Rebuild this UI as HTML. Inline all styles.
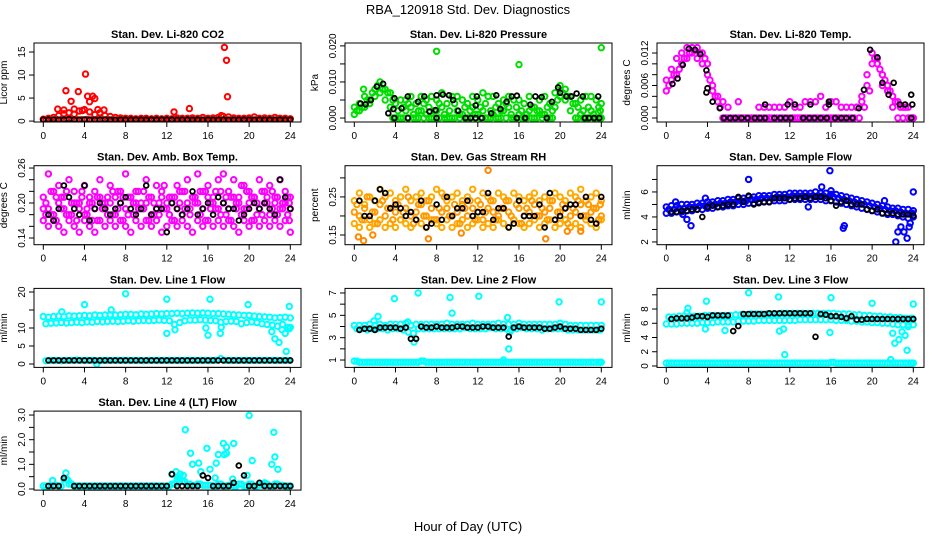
<!DOCTYPE html>
<html><head><meta charset="utf-8"><style>
html,body{margin:0;padding:0;background:#fff;}
svg{display:block;font-family:"Liberation Sans",sans-serif;}
</style></head><body>
<svg id="chart" width="936" height="540" viewBox="0 0 936 540" xmlns="http://www.w3.org/2000/svg">
<rect width="936" height="540" fill="#fff"/>
<text x="468" y="14" font-size="13" text-anchor="middle">RBA_120918  Std. Dev. Diagnostics</text>
<text x="468" y="531" font-size="13" text-anchor="middle">Hour of Day (UTC)</text>
</svg>
<script>
const halfHours=[0,0.5,1,1.5,2,2.5,3,3.5,4,4.5,5,5.5,6,6.5,7,7.5,8,8.5,9,9.5,10,10.5,11,11.5,12,12.5,13,13.5,14,14.5,15,15.5,16,16.5,17,17.5,18,18.5,19,19.5,20,20.5,21,21.5,22,22.5,23,23.5,24];
const quarterHours=[0.25,0.75,1.25,1.75,2.25,2.75,3.25,3.75,4.25,4.75,5.25,5.75,6.25,6.75,7.25,7.75,8.25,8.75,9.25,9.75,10.25,10.75,11.25,11.75,12.25,12.75,13.25,13.75,14.25,14.75,15.25,15.75,16.25,16.75,17.25,17.75,18.25,18.75,19.25,19.75,20.25,20.75,21.25,21.75,22.25,22.75,23.25,23.75,23.9];
const xTicks=[0,4,8,12,16,20,24];

// CO2
const co2Red=[0.4,0.6,0.8,1.2,2.4,1.8,1.5,2.2,2.5,2.0,1.4,1.8,1.2,1.0,0.8,0.7,0.6,0.6,0.5,0.6,0.6,0.5,0.6,0.5,0.6,0.5,0.7,0.6,0.6,0.7,0.6,0.8,0.6,0.7,0.8,1.0,0.9,0.7,0.6,0.6,0.7,0.9,0.6,0.7,0.6,0.8,0.6,0.6,0.5];
const co2OutX=[1.4,2.2,2.7,3.4,4.1,4.3,4.5,4.8,5.0,5.3,5.9,12.7,14.2,17.3,17.6,17.8,17.9,2.0,3.0,3.8];
const co2OutY=[2.6,6.6,4.3,6.4,10.2,5.4,4.2,5.4,4.9,2.5,2.4,2.0,2.7,1.2,16,13.2,5.3,1.6,2.6,2.3];
const co2Black=[0.3,0.3,0.35,0.3,0.3,0.4,0.3,0.3,0.35,0.3,0.3,0.3,0.35,0.3,0.3,0.3,0.3,0.3,0.3,0.3,0.3,0.3,0.3,0.3,0.3,0.3,0.3,0.3,0.3,0.3,0.3,0.3,0.3,0.3,0.3,0.3,0.3,0.3,0.3,0.3,0.3,0.3,0.3,0.3,0.3,0.3,0.3,0.3,0.3];

// Pressure
const presUp=[0.003,0.004,0.006,0.005,0.008,0.010,0.008,0.007,0.004,0.005,0.005,0.006,0.004,0.006,0.005,0.006,0.005,0.007,0.004,0.006,0.006,0.005,0.004,0.006,0.005,0.007,0.006,0.006,0.004,0.005,0.006,0.005,0.005,0.004,0.006,0.003,0.005,0.006,0.004,0.007,0.009,0.008,0.006,0.004,0.005,0.006,0.006,0.005,0.004];
const presLow=[0.001,0.002,0.003,0.004,0.006,0.007,0.005,0.003,0,0,0.002,0.003,0,0.002,0.001,0,0.002,0.003,0,0,0.002,0.001,0,0.003,0.001,0.002,0,0.001,0,0.002,0.003,0,0.001,0,0.002,0,0.002,0.001,0,0.003,0.006,0.005,0.002,0,0.001,0,0.002,0,0];
const presMid=[0.002,0.003,0.005,0.007,0.009,0.008,0.007,0.005,0.002,0.003,0.004,0.001,0.002,0.004,0.003,0.002,0.004,0.001,0.002,0.004,0.001,0.003,0.002,0.001,0.003,0.004,0.002,0.003,0.002,0.004,0.001,0.003,0.002,0.001,0.003,0.002,0.001,0.003,0.002,0.005,0.007,0.006,0.004,0.003,0.002,0.003,0.001,0.003,0.002];
const presZero=[null,null,null,null,null,null,null,0,0,0,0,0,0,0,0,0,0,0,0,0,0,0,0,0,0,0,0,0,0,0,0,0,0,0,0,0,0,0,0,null,null,null,null,0,0,0,0,0,0];
const presOutX=[8,16,24,0.9,23.7];
const presOutY=[0.0185,0.0148,0.0195,0.008,0.0015];
const presBlackX=[0.6,1.1,1.6,2.2,2.8,3.3,3.8,3.9,4.6,5.2,6.2,6.8,7.3,7.9,8,8.6,9.2,9.6,10.1,11.8,11.9,13.3,13.8,14.2,14.8,15.3,15.8,17.1,17.6,18.2,19.2,19.8,20,20.6,21.1,21.6,22.2,23.7,3.9,5.2,8,10.8,11.3,11.8,12.4,15.8,16.6,18.7,22.4,22.8,23.3,23.8];
const presBlackY=[0.004,0.0038,0.005,0.0087,0.0095,0.0013,0.0025,0.0055,0.0027,0.006,0.0045,0.006,0.0018,0.0022,0.0063,0.0065,0.0063,0.005,0.002,0.0035,0.006,0.0013,0.0063,0.0025,0.0045,0.006,0.0062,0.0037,0.006,0.0058,0.0045,0.0085,0.007,0.006,0.006,0.0068,0.006,0.006,0,0,0,0,0,0,0,0,0,0,0,0,0,0];

// Temp
const tempUp=[0.007,0.009,0.011,0.012,0.013,0.013,0.013,0.012,0.010,0.006,0.004,0.003,0.002,null,0.003,null,null,null,0.002,0.002,0.002,0.002,0.002,0.002,0.003,0.002,0.002,0.003,0.003,0.003,0.004,0.002,0.003,0.003,0.002,0.002,0.002,0.002,0.004,0.008,0.012,0.011,0.008,0.006,0.004,0.003,0.002,0.002,0];
const tempLow=[0.005,0.007,0.008,0.010,0.011,0.012,0.011,0.010,0.008,0.005,0.003,0,0,0,0,0,0,0,0,0,0,0,0,0,0,0,0,0,0,0,0,0,0,0,0,0,0,0.002,0.003,0.006,0.010,0.010,0.006,0.005,0.002,0,0,0,0];
const tempMid=[0.006,0.008,0.009,0.011,0.012,0.0125,0.012,0.011,0.007,0.004,0.002,0,0,0,0,0,0,0,0,0,0,0,0,0,0,0,0,0,0,0,0,0,0,0,0,0,0,0,0.002,0.005,0.011,0.009,0.007,0.005,0.003,0.002,0.002,0,0];
const tempBlackX=[0.6,1.1,1.6,2.2,2.8,3.3,3.9,4.0,3.9,4.5,5.2,9.6,11.8,12.5,14,15.8,15.8,18.7,19.2,19.8,20.5,21,21.6,22.1,22.7,23.2,23.8,23.9,23.8,5.6,6.2,6.7,7.3,7.9,8.6,9.1,9.6,10.5,11.1,11.6,12.1,13.3,13.9,14.4,15.0,15.6,16.4,17.0,17.5,18.1];
const tempBlackY=[0.0063,0.0073,0.0098,0.0128,0.0126,0.0118,0.0088,0.0055,0.0047,0.003,0.0018,0.0025,0.0025,0.0025,0.0025,0.0025,0.003,0.0018,0.0052,0.0126,0.0112,0.0065,0.0043,0.0065,0.0025,0.0025,0.0043,0.0025,0,0,0,0,0,0,0,0,0,0,0,0,0,0,0,0,0,0,0,0,0,0];

// Amb box temp
const ambA=[0.21,0.25,0.22,0.23,0.21,0.24,0.22,0.20,0.23,0.21,0.22,0.24,0.20,0.23,0.21,0.22,0.25,0.21,0.22,0.20,0.24,0.21,0.23,0.22,0.20,0.21,0.23,0.22,0.24,0.21,0.25,0.22,0.23,0.21,0.24,0.25,0.22,0.24,0.21,0.23,0.22,0.21,0.24,0.22,0.23,0.21,0.24,0.22,0.21];
const ambB=[0.19,0.19,0.18,0.20,0.19,0.18,0.20,0.19,0.18,0.20,0.19,0.21,0.19,0.20,0.18,0.20,0.19,0.21,0.20,0.19,0.20,0.18,0.19,0.21,0.19,0.20,0.19,0.18,0.20,0.21,0.20,0.19,0.21,0.20,0.19,0.20,0.19,0.21,0.20,0.19,0.20,0.21,0.19,0.20,0.18,0.20,0.19,0.20,0.19];
const ambC=[0.17,0.16,0.17,0.16,0.15,0.17,0.16,0.15,0.17,0.16,0.15,0.17,0.16,0.17,0.16,0.17,0.16,0.15,0.17,0.16,0.17,0.16,0.17,0.15,0.16,0.17,0.16,0.17,0.16,0.15,0.17,0.16,0.17,0.16,0.17,0.16,0.17,0.16,0.15,0.17,0.16,0.17,0.16,0.17,0.16,0.17,0.16,0.17,0.15];
const ambD=[0.20,0.18,0.21,0.19,0.22,0.18,0.20,0.21,0.19,0.17,0.21,0.20,0.18,0.22,0.19,0.21,0.18,0.20,0.22,0.19,0.21,0.18,0.20,0.23,0.18,0.21,0.20,0.22,0.19,0.21,0.18,0.22,0.20,0.19,0.22,0.18,0.21,0.20,0.23,0.19,0.21,0.18,0.22,0.20,0.19,0.21,0.20,0.18,0.20];
const ambE=[0.18,0.22,0.17,0.21,0.18,0.20,0.17,0.22,0.18,0.20,0.17,0.19,0.21,0.18,0.22,0.17,0.21,0.18,0.19,0.22,0.17,0.20,0.18,0.19,0.21,0.17,0.22,0.19,0.18,0.20,0.22,0.17,0.19,0.22,0.18,0.21,0.17,0.19,0.18,0.22,0.17,0.20,0.18,0.21,0.22,0.18,0.19,0.21,0.17];
const ambBlack=[null,0.18,0.17,0.19,0.23,0.21,0.19,0.18,0.23,0.17,0.19,0.20,0.19,0.18,0.19,0.20,0.21,0.19,0.18,0.19,0.23,0.18,0.19,0.19,0.15,0.20,0.19,0.18,0.19,0.22,0.18,0.19,0.20,0.18,0.21,0.20,0.19,0.19,0.17,0.18,0.19,0.20,0.19,0.20,0.19,0.18,0.24,0.21,0.19];

// Gas stream RH
const rhA=[0.24,0.26,0.23,0.25,0.24,0.27,0.25,0.26,0.24,0.25,0.27,0.24,0.25,0.26,0.24,0.25,0.27,0.26,0.24,0.25,0.26,0.24,0.25,0.27,0.24,0.26,0.25,0.24,0.26,0.25,0.24,0.26,0.25,0.24,0.25,0.26,0.24,0.25,0.24,0.26,0.25,0.24,0.26,0.25,0.27,0.24,0.25,0.26,0.24];
const rhB=[0.21,0.20,0.22,0.19,0.21,0.23,0.20,0.22,0.21,0.19,0.22,0.20,0.21,0.23,0.20,0.22,0.19,0.21,0.22,0.20,0.21,0.23,0.20,0.22,0.21,0.19,0.22,0.21,0.20,0.22,0.21,0.19,0.22,0.20,0.21,0.23,0.20,0.21,0.22,0.19,0.21,0.22,0.20,0.21,0.23,0.20,0.21,0.22,0.20];
const rhC=[0.18,0.17,0.19,0.17,0.18,0.19,0.17,0.18,0.17,0.19,0.18,0.17,0.19,0.18,0.17,0.19,0.18,0.17,0.19,0.17,0.18,0.19,0.17,0.18,0.19,0.17,0.18,0.17,0.19,0.18,0.17,0.19,0.18,0.17,0.18,0.19,0.17,0.18,0.19,0.17,0.18,0.19,0.17,0.18,0.17,0.19,0.18,0.17,0.19];
const rhD=[0.23,0.19,0.25,0.21,0.18,0.24,0.22,0.19,0.23,0.21,0.25,0.18,0.23,0.20,0.24,0.19,0.22,0.25,0.20,0.23,0.18,0.22,0.24,0.19,0.23,0.21,0.24,0.19,0.22,0.24,0.20,0.23,0.18,0.22,0.24,0.20,0.22,0.19,0.24,0.21,0.23,0.18,0.22,0.24,0.20,0.23,0.22,0.19,0.23];
const rhOutX=[0.4,0.9,1.8,13,18.6,7.2,10.4,20.7,22];
const rhOutY=[0.145,0.135,0.15,0.32,0.14,0.14,0.155,0.16,0.16];
const rhBlack=[null,0.24,0.20,0.20,0.24,0.27,0.26,0.22,0.23,0.22,0.20,0.21,0.19,0.24,0.17,0.18,0.23,0.19,0.25,0.20,0.22,0.22,0.24,0.20,0.21,0.21,0.26,0.19,0.22,0.22,0.17,0.18,0.24,0.20,0.20,0.20,0.23,0.17,0.26,0.19,0.20,0.22,0.23,0.23,0.20,0.25,0.19,0.18,0.25];

// Sample flow
const sfUp=[4.8,4.9,4.9,5.0,5.0,5.0,5.1,5.1,5.2,5.2,5.3,5.3,5.4,5.4,5.5,5.5,5.6,5.6,5.7,5.7,5.7,5.8,5.8,5.8,5.9,5.9,5.9,5.9,5.9,6.0,5.9,5.9,5.8,5.8,5.7,5.6,5.5,5.4,5.3,5.2,5.1,5.0,4.9,4.8,4.7,4.7,4.6,4.6,4.5];
const sfMid=[4.6,4.6,4.7,4.7,4.8,4.8,4.9,4.9,5.0,5.0,5.1,5.1,5.2,5.2,5.3,5.3,5.4,5.4,5.5,5.5,5.5,5.6,5.6,5.6,5.7,5.7,5.7,5.7,5.7,5.7,5.7,5.6,5.6,5.5,5.4,5.3,5.2,5.1,5.0,4.9,4.8,4.7,4.6,4.5,4.5,4.4,4.3,4.3,4.3];
const sfLow=[4.3,4.3,4.4,4.4,4.5,4.5,4.6,4.6,4.7,4.7,4.8,4.8,4.9,4.9,5.0,5.0,5.1,5.1,5.2,5.2,5.2,5.3,5.3,5.3,5.4,5.4,5.4,5.4,5.4,5.4,5.4,5.3,5.3,5.2,5.1,5.0,4.9,4.8,4.7,4.6,4.5,4.4,4.3,4.2,4.2,4.1,4.0,3.9,4.0];
const sfOutX=[1.6,2.0,2.4,8,15.1,15.9,16.0,17.2,17.3,22.3,22.5,22.8,23.1,23.4,23.6,23.7,24,21.2,13.8,0.9,3.8];
const sfOutY=[4.2,3.8,3.3,7,6.4,7.7,6.1,3.1,3.3,2.0,2.8,3.2,2.8,2.3,3.2,3.5,6.0,5.3,4.8,5.2,5.5];
const sfBlack=[null,4.4,4.4,4.5,4.5,4.6,4.6,4.0,4.8,4.9,4.8,4.9,5.0,5.0,5.6,5.2,5.7,5.0,5.1,5.2,5.2,5.5,5.5,5.5,5.4,5.5,5.5,5.6,5.5,5.6,5.6,5.5,5.3,4.9,5.2,5.3,5.0,5.0,5.0,4.6,4.5,4.6,4.3,4.3,4.3,4.2,4.2,4.2,4.1];

// Line 1 flow
const l1Up=[13.2,13.0,13.2,13.3,13.2,13.4,13.3,13.4,13.5,13.4,13.6,13.5,13.6,13.7,13.6,13.7,13.8,13.8,13.7,13.9,13.8,13.9,14.0,13.9,14.0,14.0,14.1,14.0,14.1,14.2,14.1,14.2,14.1,14.0,14.0,13.9,13.8,13.7,13.6,13.5,13.5,13.3,13.2,13.1,13.0,12.8,12.9,13.0,12.8];
const l1Low=[11.2,11.3,11.4,11.5,11.4,11.5,11.6,11.5,11.7,11.6,11.8,11.7,11.8,11.9,11.8,11.9,12.0,11.9,12.0,12.1,12.0,12.1,12.2,12.1,12.0,11.0,11.5,12.0,12.2,12.2,12.3,12.2,12.1,12.0,11.6,11.8,11.9,11.8,11.2,11.5,11.7,11.5,11.2,11.0,10.8,10.5,11.0,10.2,9.8];
const l1Base=[0.9,1.0,1.0,0.9,1.0,1.0,1.1,1.0,1.0,1.0,0.9,1.0,1.0,1.0,1.0,1.0,1.0,1.0,1.0,0.9,1.0,1.0,1.0,1.0,1.0,1.0,1.0,1.0,1.0,1.0,1.0,1.0,1.0,1.0,1.5,1.0,1.0,1.0,1.0,1.0,1.0,1.0,1.0,1.0,1.0,1.0,1.0,1.0,1.0];
const l1OutX=[1.8,4,6.6,8,12,12,12.8,15.8,16,16.2,17.2,17.3,19.9,22.2,22.5,22.9,23.2,23.5,23.6,23.9,24,5.2];
const l1OutY=[14.5,16.5,15,19.5,18,8.5,9.5,10,8,18,8.5,10.2,16.5,9,7,6,9.5,8.5,3.5,16,10.2,0];
const l1Black=[null,1,1,1,1,1,1,1,1,1,1,1,1,1,1,1,1,1,1,1,1,1,1,1,1,1,1,1,1,1,1,1,1,1,1,1,1,1,1,1,1,1,1,1,1,1,1,1,1];

// Line 2 flow
const l2Up=[4.1,4.1,4.1,4.2,4.1,4.2,4.1,4.2,4.2,4.2,4.3,4.1,4.2,4.2,4.2,4.2,4.2,4.2,4.3,4.2,4.2,4.2,4.2,4.3,4.2,4.2,4.2,4.2,4.3,4.2,4.2,4.2,4.3,4.2,4.2,4.2,4.2,4.2,4.2,4.2,4.3,4.2,4.1,4.1,4.1,4.1,4.1,4.1,4.1];
const l2Low=[3.8,3.8,3.7,3.8,3.8,3.8,3.7,3.8,3.8,3.7,3.5,3.4,3.8,3.8,3.8,3.8,3.8,3.8,3.8,3.8,3.8,3.9,3.8,3.8,3.8,3.8,3.9,3.8,3.8,3.8,3.7,3.8,3.9,3.8,3.8,3.8,3.7,3.8,3.8,3.8,3.8,3.7,3.7,3.7,3.7,3.7,3.7,3.7,3.7];
const l2Base=[0.9,0.8,0.8,0.8,0.8,0.8,0.8,0.8,0.8,0.8,0.8,0.8,0.8,0.9,0.8,0.8,0.8,0.8,0.8,0.8,0.8,0.8,0.8,0.8,0.8,0.8,0.8,0.8,0.8,0.8,0.8,0.8,0.8,0.8,0.8,0.8,0.8,0.8,0.8,0.8,0.8,0.8,0.8,0.8,0.8,0.8,0.8,0.8,0.8];
const l2OutX=[1.9,2.3,3.9,5.2,5.8,6.2,9.3,9.5,12.1,14.9,15.0,15.1,19.9,24,14.5];
const l2OutY=[4.5,4.9,6.5,4.4,2.6,7,6.6,5.2,6.7,4.8,2.0,3.5,6.2,6.2,1.0];
const l2Black=[null,3.7,3.8,3.8,3.7,3.9,3.9,3.9,3.9,3.8,3.9,2.9,2.9,4.0,3.9,3.9,4.0,3.9,3.9,3.9,4.0,4.0,3.9,3.9,3.9,4.0,4.0,3.9,3.9,3.9,3.1,3.9,4.0,3.9,3.9,3.9,3.9,3.8,3.8,3.9,4.0,3.8,3.8,3.8,3.7,3.7,3.7,3.7,3.8];

// Line 3 flow
const l3Up=[6.9,6.9,7.0,7.0,7.0,7.0,7.0,7.1,7.1,7.1,7.1,7.1,7.1,7.2,7.2,7.2,7.3,7.3,7.3,7.3,7.3,7.3,7.4,7.4,7.4,7.4,7.4,7.4,7.4,7.4,7.4,7.4,7.4,7.3,7.3,7.3,7.2,7.2,7.1,7.1,7.0,7.0,6.9,6.9,6.8,6.8,6.7,6.7,6.7];
const l3Low=[5.9,5.9,5.9,6.0,6.0,6.0,6.0,6.1,6.1,6.1,6.2,6.2,6.2,6.2,6.3,6.3,6.3,6.3,6.4,6.4,6.4,6.4,6.4,6.4,6.4,6.4,6.5,6.5,6.5,6.5,6.5,6.5,6.5,6.4,6.4,6.4,6.3,6.3,6.2,6.2,6.1,6.1,6.0,6.0,5.9,5.8,5.8,5.8,5.8];
const l3Base=[0.4,0.4,0.4,0.4,0.4,0.4,0.4,0.4,0.4,0.4,0.4,0.4,0.4,0.4,0.4,0.4,0.4,0.4,0.4,0.4,0.4,0.4,0.4,0.4,0.4,0.4,0.4,0.4,0.4,0.4,0.4,0.4,0.5,0.4,0.4,0.4,0.4,0.4,0.4,0.4,0.4,0.4,0.4,0.4,0.4,0.4,0.4,0.4,0.4];
const l3OutX=[2.0,2.1,3.8,3.9,5.7,8,10.9,11.0,11.4,11.5,15.9,16,20,22.0,22.2,22.6,22.9,23.2,23.4,23.5,24,21.8];
const l3OutY=[7.5,8.1,5.2,9.1,5.0,10.3,9.7,4.9,5.2,1.6,4.7,9.6,8.8,4.6,3.2,3.7,4.8,4.3,2.2,5.5,8.7,0.9];
const l3Black=[null,6.6,6.7,6.7,6.7,6.8,7.0,7.0,6.9,7.1,7.1,7.1,7.1,4.9,5.6,7.3,7.3,7.3,7.3,7.3,7.4,7.4,7.4,7.4,7.4,7.4,7.4,7.4,7.4,4.1,7.3,7.2,7.0,7.0,6.9,6.7,7.0,6.5,6.5,6.6,6.6,6.6,6.6,6.6,6.6,6.6,6.6,6.6,6.6];

// Line 4 flow
const l4Base=[0.12,0.12,0.15,0.12,0.4,0.2,0.12,0.12,0.12,0.12,0.12,0.12,0.12,0.12,0.12,0.12,0.12,0.12,0.12,0.12,0.12,0.12,0.12,0.12,0.12,0.2,0.4,0.3,0.2,0.15,0.2,0.15,0.15,0.12,0.2,0.12,0.15,0.12,0.2,0.12,0.2,0.12,0.15,0.2,0.12,0.2,0.15,0.12,0.12];
const l4OutX=[0.9,2.2,2.4,12.5,12.9,13.1,13.3,13.6,13.8,14.3,14.5,15.1,15.3,15.9,16.2,16.7,16.8,17.0,17.5,17.6,17.8,17.8,18.5,18.4,19.8,20.0,20.3,22.2,22.4,22.5,22.8,21.5];
const l4OutY=[0.35,0.65,0.35,0.6,0.7,0.5,0.6,0.55,2.4,1.45,1.0,1.05,0.7,1.65,0.8,0.45,1.05,1.4,1.85,1.4,1.7,1.45,1.85,0.4,0.55,2.98,1.15,1.0,2.3,1.3,0.8,0.25];
const l4Black=[null,0.12,0.12,0.12,0.45,null,0.12,0.12,0.12,0.12,0.12,0.12,0.12,0.12,0.12,0.12,0.12,0.12,0.12,0.12,0.12,0.12,0.12,0.12,0.12,0.6,0.12,0.12,0.12,0.12,0.12,0.55,0.45,0.12,0.12,0.12,0.12,0.25,0.95,0.55,0.12,0.12,0.25,0.12,0.12,0.12,0.12,0.12,0.12];

const NS='http://www.w3.org/2000/svg';
const svg=document.getElementById('chart');
const colLeft=[34,345,657];
function mk(tag,attrs,parent){const e=document.createElementNS(NS,tag);for(const k in attrs)e.setAttribute(k,attrs[k]);(parent||svg).appendChild(e);return e;}

let pid=0;
function panel(cfg){
  pid++;
  const bx=colLeft[cfg.col], w=267, top=43+122.7*cfg.row, h=79, bottom=top+h;
  const xs=v=>bx+9.3+v*(247/24);
  const ys=v=>bottom-(v-cfg.v0)/(cfg.v1-cfg.v0)*h;
  const g=mk('g',{});
  
  
  const cp=mk('clipPath',{id:'cp'+pid},g);
  mk('rect',{x:bx,y:top,width:w,height:h},cp);
  const t=mk('text',{x:bx+w/2,y:top-5,'font-size':11,'font-weight':'bold','text-anchor':'middle'},g);
  t.textContent=cfg.title;
  
  
  const yl=mk('text',{x:bx-27,y:top+h/2,'font-size':10,'text-anchor':'middle',transform:`rotate(-90 ${bx-27} ${top+h/2})`},g);
  yl.textContent=cfg.ylab;
  
  
  const pts=mk('g',{'clip-path':`url(#cp${pid})`,fill:'none'},g);
  
  
  cfg.series.forEach(s=>{
    const isBlack=s.color==='#000';
    const sg=mk('g',{stroke:s.color,'stroke-width':s.sw||(isBlack?1.8:2.0)},pts);
    
    
    s.y.forEach((v,i)=>{
      if(v===null||v===undefined)return;
      const c=mk('circle',{cx:xs(s.x[i]).toFixed(1),cy:ys(v).toFixed(1),r:s.r||(isBlack?2.4:2.7)},sg);
      
      
    });
  });
  const box=mk('rect',{x:bx,y:top,width:w,height:h,fill:'none',stroke:'#000','stroke-width':1},g);
  
  
  const xa=mk('g',{stroke:'#000'},g);
  
  
  mk('line',{x1:xs(0),x2:xs(24),y1:bottom,y2:bottom},xa);
  xTicks.forEach(v=>{
    mk('line',{x1:xs(v),x2:xs(v),y1:bottom,y2:bottom+5},xa);
    const tx=mk('text',{x:xs(v),y:bottom+17,'font-size':10,'text-anchor':'middle',stroke:'none',fill:'#000'},xa);
    tx.textContent=String(v);
    
    
  });
  const ya=mk('g',{stroke:'#000'},g);
  
  
  mk('line',{x1:bx,x2:bx,y1:ys(cfg.ticks[0]),y2:ys(cfg.ticks[cfg.ticks.length-1])},ya);
  cfg.ticks.forEach((v,i)=>{
    const y=ys(v);
    mk('line',{x1:bx-5,x2:bx,y1:y,y2:y},ya);
    const lab=cfg.labels[i];
    if(lab){
      const tx=mk('text',{x:bx-9,y:y,'font-size':10,'text-anchor':'middle',stroke:'none',fill:'#000',transform:`rotate(-90 ${bx-9} ${y})`},ya);
      tx.textContent=lab;
      
      
    }
  });
}
const MAG='#ff00ff', CY='#00ffff', BK='#000';
panel({name:'co2',col:0,row:0,title:'Stan. Dev. Li-820 CO2',ylab:'Licor ppm',v0:-0.2,v1:16.96,ticks:[0,5,10,15],labels:['0','5','10','15'],
 series:[{id:'red',color:'#ff0000',x:halfHours,y:co2Red},{id:'red-q',color:'#ff0000',x:quarterHours,y:co2Black},{id:'red-outliers',color:'#ff0000',x:co2OutX,y:co2OutY},{id:'black',color:BK,x:halfHours,y:co2Black}]});
panel({name:'pressure',col:1,row:0,title:'Stan. Dev. Li-820 Pressure',ylab:'kPa',v0:-0.0011,v1:0.0208,ticks:[0,0.005,0.01,0.015,0.02],labels:['0.000','','0.010','','0.020'],
 series:[{id:'green-up',color:'#00dd00',x:halfHours,y:presUp},{id:'green-mid',color:'#00dd00',x:quarterHours,y:presMid},{id:'green-low',color:'#00dd00',x:halfHours,y:presLow},{id:'green-zero',color:'#00dd00',x:quarterHours,y:presZero},{id:'green-outliers',color:'#00dd00',x:presOutX,y:presOutY},{id:'black',color:BK,x:presBlackX,y:presBlackY}]});
panel({name:'temp',col:2,row:0,title:'Stan. Dev. Li-820 Temp.',ylab:'degrees C',v0:-0.00074,v1:0.01385,ticks:[0,0.002,0.004,0.006,0.008,0.01,0.012],labels:['0.000','','','0.006','','','0.012'],
 series:[{id:'magenta-up',color:MAG,x:halfHours,y:tempUp},{id:'magenta-mid',color:MAG,x:quarterHours,y:tempMid},{id:'magenta-low',color:MAG,x:halfHours,y:tempLow},{id:'black',color:BK,x:tempBlackX,y:tempBlackY}]});
panel({name:'amb-box-temp',col:0,row:1,title:'Stan. Dev. Amb. Box Temp.',ylab:'degrees C',v0:0.1285,v1:0.264,ticks:[0.14,0.16,0.18,0.2,0.22,0.24,0.26],labels:['0.14','','','0.20','','','0.26'],
 series:[{id:'magenta-a',color:MAG,x:halfHours,y:ambA},{id:'magenta-b',color:MAG,x:halfHours,y:ambB},{id:'magenta-c',color:MAG,x:halfHours,y:ambC},{id:'magenta-d',color:MAG,x:quarterHours,y:ambD},{id:'magenta-e',color:MAG,x:quarterHours,y:ambE},{id:'black',color:BK,x:halfHours,y:ambBlack}]});
panel({name:'gas-stream-rh',col:1,row:1,title:'Stan. Dev. Gas Stream RH',ylab:'percent',v0:0.1245,v1:0.332,ticks:[0.15,0.2,0.25,0.3],labels:['0.15','','0.25',''],
 series:[{id:'orange-a',color:'#ffaa00',x:halfHours,y:rhA},{id:'orange-b',color:'#ff9900',x:halfHours,y:rhB},{id:'orange-c',color:'#ffaa00',x:halfHours,y:rhC},{id:'orange-d',color:'#ff9900',x:quarterHours,y:rhD},{id:'orange-outliers',color:'#ff8800',x:rhOutX,y:rhOutY},{id:'black',color:BK,x:halfHours,y:rhBlack}]});
panel({name:'sample-flow',col:2,row:1,title:'Stan. Dev. Sample Flow',ylab:'ml/min',v0:1.78,v1:8.1,ticks:[2,3,4,5,6,7],labels:['2','','4','','6',''],
 series:[{id:'blue-up',color:'#0000ff',x:halfHours,y:sfUp},{id:'blue-mid',color:'#0000ff',x:quarterHours,y:sfMid},{id:'blue-low',color:'#0000ff',x:halfHours,y:sfLow},{id:'blue-outliers',color:'#0000ff',x:sfOutX,y:sfOutY},{id:'black',color:BK,x:halfHours,y:sfBlack}]});
panel({name:'line1-flow',col:0,row:2,title:'Stan. Dev. Line 1 Flow',ylab:'ml/min',v0:-0.94,v1:21,ticks:[0,5,10,15,20],labels:['0','5','10','','20'],
 series:[{id:'cyan-up',color:CY,x:halfHours,y:l1Up},{id:'cyan-low',color:CY,x:quarterHours,y:l1Low},{id:'cyan-base',color:CY,x:quarterHours,y:l1Base},{id:'cyan-outliers',color:CY,x:l1OutX,y:l1OutY},{id:'black',color:BK,x:halfHours,y:l1Black}]});
panel({name:'line2-flow',col:1,row:2,title:'Stan. Dev. Line 2 Flow',ylab:'ml/min',v0:0.34,v1:7.41,ticks:[1,2,3,4,5,6,7],labels:['1','','3','','5','','7'],
 series:[{id:'cyan-up',color:CY,x:halfHours,y:l2Up},{id:'cyan-low',color:CY,x:quarterHours,y:l2Low},{id:'cyan-base',color:CY,x:halfHours,y:l2Base},{id:'cyan-base-q',color:CY,x:quarterHours,y:l2Base},{id:'cyan-outliers',color:CY,x:l2OutX,y:l2OutY},{id:'black',color:BK,x:halfHours,y:l2Black}]});
panel({name:'line3-flow',col:2,row:2,title:'Stan. Dev. Line 3 Flow',ylab:'ml/min',v0:-0.2,v1:10.9,ticks:[0,2,4,6,8,10],labels:['0','2','4','6','8',''],
 series:[{id:'cyan-up',color:CY,x:quarterHours,y:l3Up},{id:'cyan-low',color:CY,x:halfHours,y:l3Low},{id:'cyan-base',color:CY,x:halfHours,y:l3Base},{id:'cyan-base-q',color:CY,x:quarterHours,y:l3Base},{id:'cyan-outliers',color:CY,x:l3OutX,y:l3OutY},{id:'black',color:BK,x:halfHours,y:l3Black}]});
panel({name:'line4-flow',col:0,row:3,title:'Stan. Dev. Line 4 (LT) Flow',ylab:'ml/min',v0:-0.045,v1:3.16,ticks:[0,0.5,1,1.5,2,2.5,3],labels:['0.0','','1.0','','2.0','','3.0'],
 series:[{id:'cyan-base',color:CY,x:halfHours,y:l4Base},{id:'cyan-base-q',color:CY,x:quarterHours,y:l4Base},{id:'cyan-outliers',color:CY,x:l4OutX,y:l4OutY},{id:'black',color:BK,x:halfHours,y:l4Black}]});
</script>
</body></html>
